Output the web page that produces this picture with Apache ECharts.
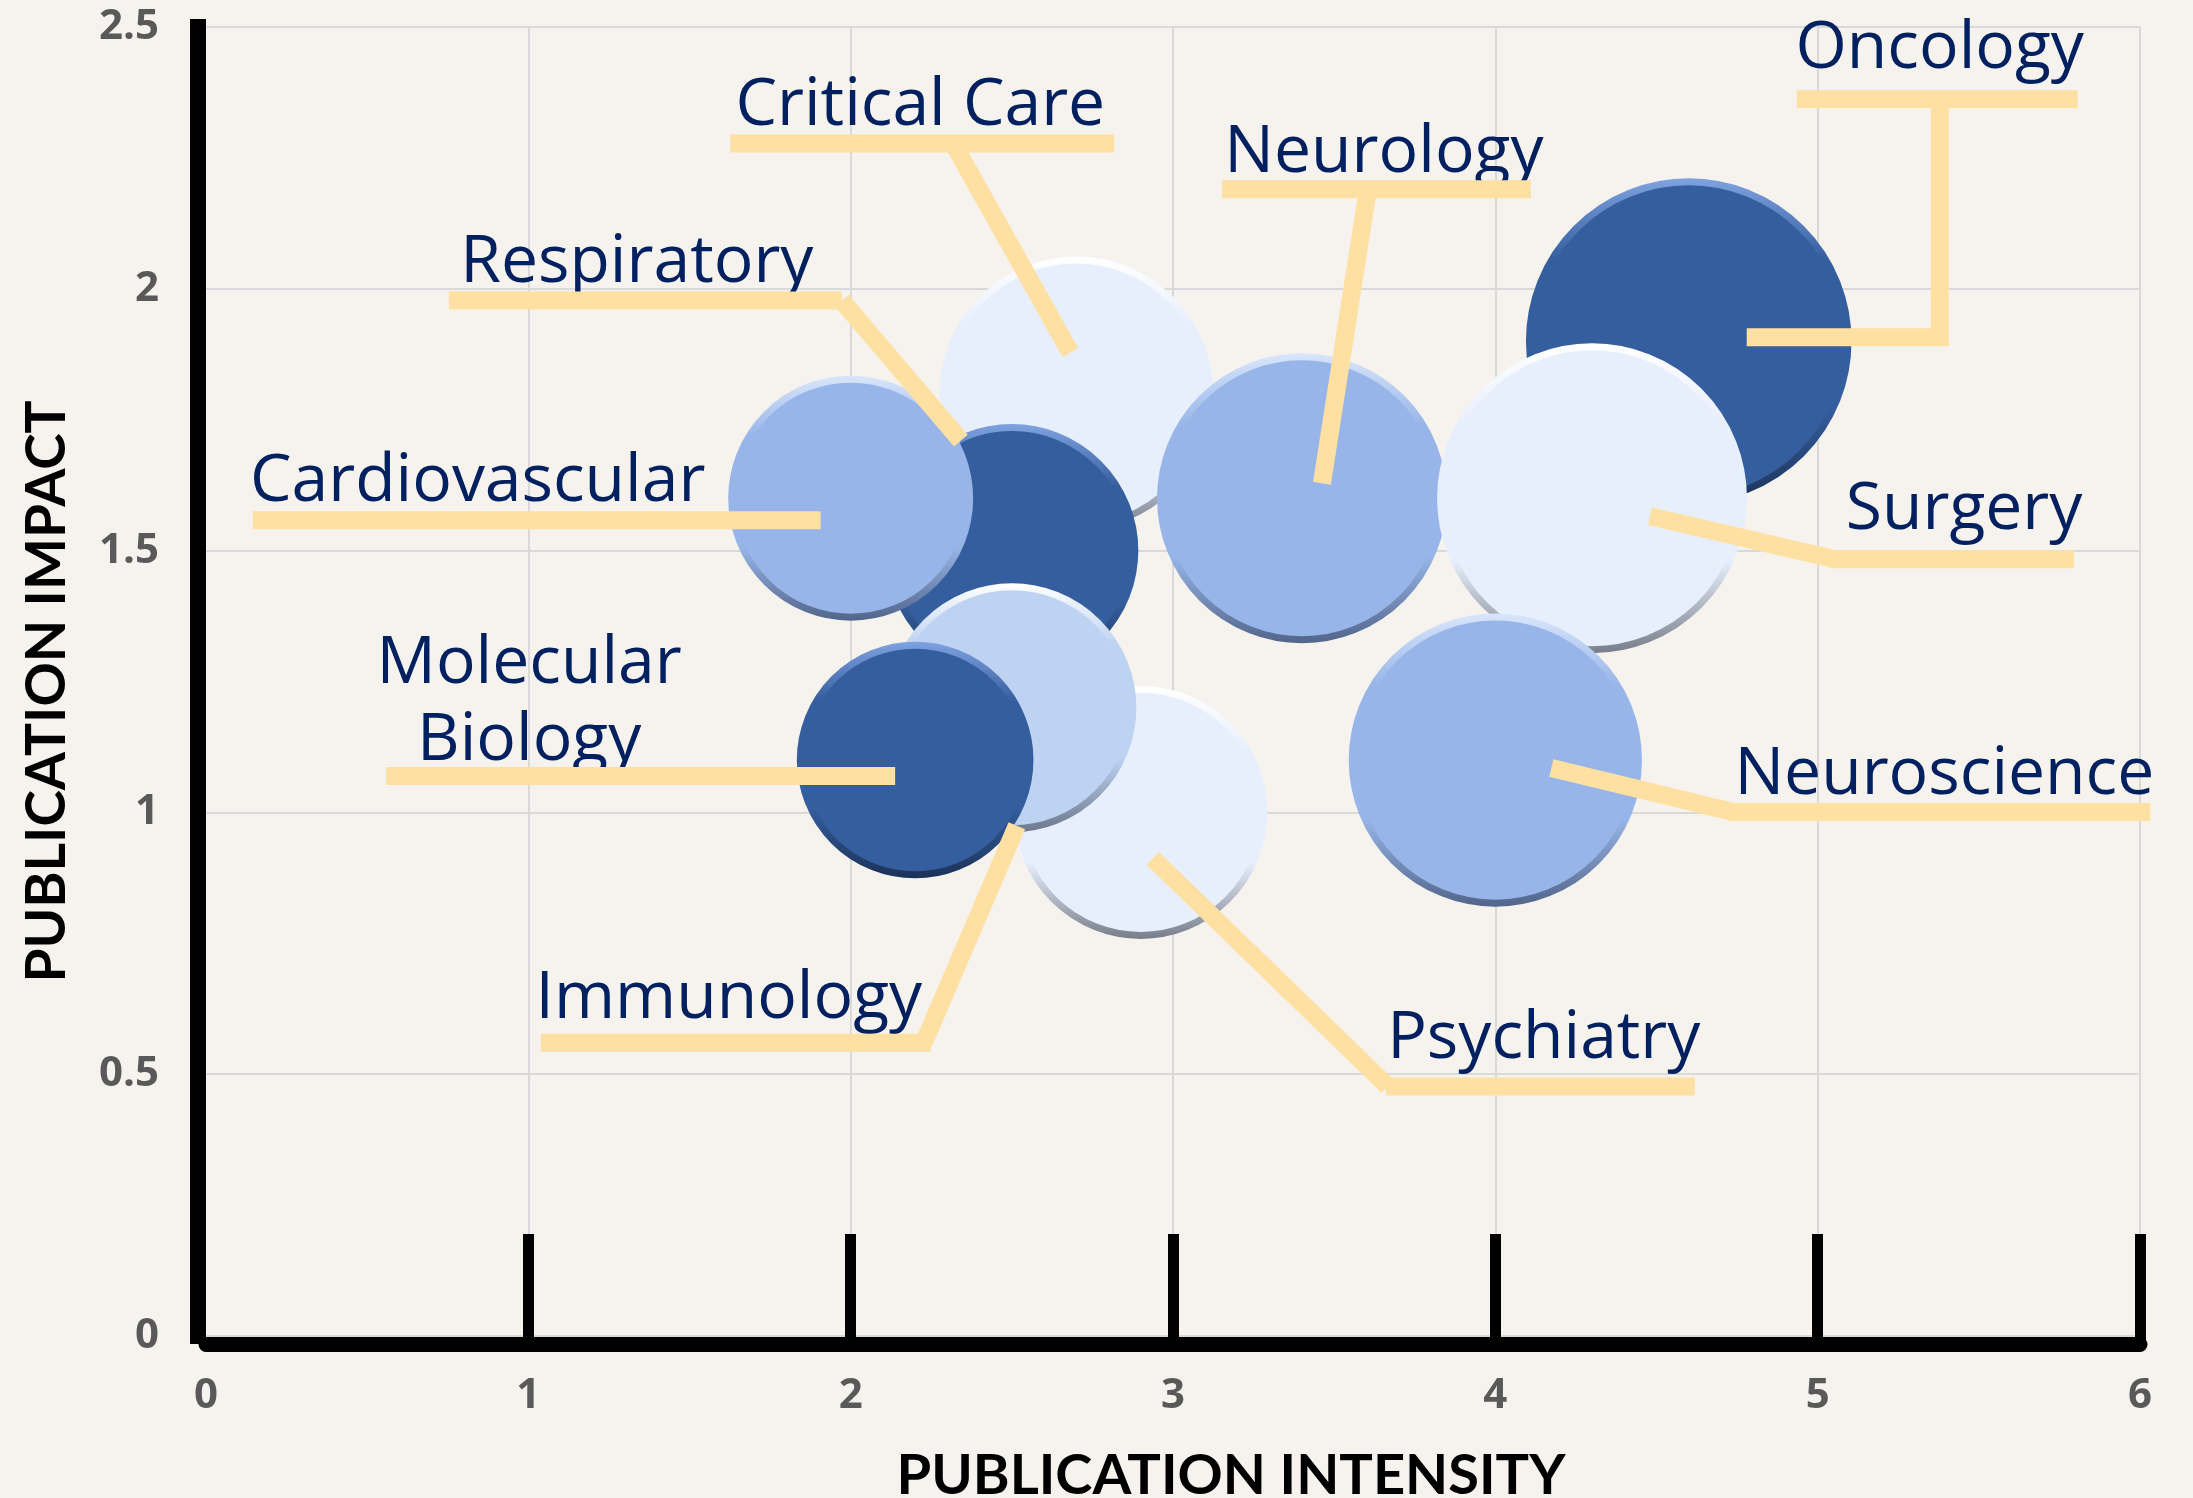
<!DOCTYPE html>
<html>
<head>
<meta charset="utf-8">
<title>Publication intensity vs impact</title>
<script src="https://cdn.jsdelivr.net/npm/echarts@6/dist/echarts.min.js"></script>
<style>
    html, body { margin: 0; padding: 0; background: #f6f3ee; }
    #chart { width: 2193px; height: 1498px; }
</style>
</head>
<body>
<div id="chart"></div>
<script>
// 数据 (drawing order = series order, later ones sit on top)
var fields = ['Oncology', 'Critical Care', 'Respiratory', 'Cardiovascular', 'Neurology',
    'Surgery', 'Psychiatry', 'Immunology', 'Molecular\nBiology', 'Neuroscience'];
var intensity = [4.6, 2.7, 2.5, 2.0, 3.4, 4.3, 2.9, 2.5, 2.2, 4.0];
var impact = [1.9, 1.8, 1.5, 1.6, 1.6, 1.6, 1.0, 1.2, 1.1, 1.1];
var bubbleSize = [10.6, 7.5, 6.4, 6.0, 8.4, 9.6, 6.4, 6.2, 5.6, 8.6];
var xTicks = [0, 1, 2, 3, 4, 5, 6];
var yTicks = [0, 0.5, 1, 1.5, 2, 2.5];

// 样式
var LEADER = '#fee0a2';
var LABEL_FS = 66;
var LABEL_LH = 77;
// fill, top highlight, bottom shade
var shade = {
    dark: ['#355e9e', '#7fa2e0', '#1b3258'],
    mid: ['#97b5e8', '#d9e6fb', '#52658a'],
    light: ['#bed2f2', '#ffffff', '#6b778c'],
    pale: ['#e8effc', '#ffffff', '#777e8a']
};
var fieldShade = {
    'Oncology': 'dark', 'Critical Care': 'pale', 'Respiratory': 'dark', 'Cardiovascular': 'mid',
    'Neurology': 'mid', 'Surgery': 'pale', 'Psychiatry': 'pale', 'Immunology': 'light',
    'Molecular\nBiology': 'dark', 'Neuroscience': 'mid'
};
// callout layout, px offsets from bubble centre: text [dx, baseline dy], bar [x1, x2, y], leader path
var calloutLayout = {
    'Oncology': { text: [251, -273], bar: [108, 389, -242], path: [[58, -4], [251, -4], [251, -242]] },
    'Critical Care': { text: [-156, -268], bar: [-346, 38, -250], path: [[-6, -41], [-123, -250]] },
    'Respiratory': { text: [-375, -268], bar: [-563, -170, -250], path: [[-51, -110], [-170, -250]] },
    'Cardiovascular': { text: [-373, 3], bar: [-598, -30, 22], path: [] },
    'Neurology': { text: [82, -326], bar: [-80, 229, -309], path: [[20, -15], [66, -309]] },
    'Surgery': { text: [372, 31], bar: [238, 482, 61], path: [[58, 18], [243, 61]] },
    'Psychiatry': { text: [403, 246], bar: [245, 554, 274], path: [[12, 46], [247, 274]] },
    'Immunology': { text: [-283, 311], bar: [-471, -81, 335], path: [[5, 118], [-88, 335]] },
    'Molecular\nBiology': { text: [-386, 0], bar: [-529, -20, 16], path: [] },
    'Neuroscience': { text: [449, 34], bar: [233, 655, 52], path: [[56, 8], [238, 52]] }
};

var bubbles = fields.map(function (name, i) {
    var s = shade[fieldShade[name]];
    return {
        name: name,
        value: [intensity[i], impact[i], bubbleSize[i]],
        itemStyle: {
            color: s[0],
            opacity: 1,
            borderWidth: 7,
            borderColor: new echarts.graphic.LinearGradient(0, 0, 0, 1, [
                { offset: 0, color: s[1] },
                { offset: 0.25, color: s[0] },
                { offset: 0.7, color: s[0] },
                { offset: 1, color: s[2] }
            ])
        }
    };
});

function renderCallout(params, api) {
    var i = params.dataIndex;
    var c = api.coord([api.value(0), api.value(1)]);
    var name = fields[i];
    var lay = calloutLayout[name];
    var lines = name.split('\n').length;
    var kids = [];
    kids.push({
        type: 'text',
        style: {
            text: name,
            x: c[0] + lay.text[0],
            y: c[1] + lay.text[1] - 0.29 * LABEL_FS - (lines - 1) * LABEL_LH / 2,
            align: 'center',
            verticalAlign: 'middle',
            fill: '#002060',
            font: LABEL_FS + 'px "Open Sans"',
            lineHeight: LABEL_LH
        }
    });
    kids.push({
        type: 'rect',
        shape: { x: c[0] + lay.bar[0], y: c[1] + lay.bar[2] - 9, width: lay.bar[1] - lay.bar[0], height: 18 },
        style: { fill: LEADER }
    });
    if (lay.path.length) {
        kids.push({
            type: 'polyline',
            shape: { points: lay.path.map(function (p) { return [c[0] + p[0], c[1] + p[1]]; }) },
            style: { stroke: LEADER, lineWidth: 18, fill: null, lineJoin: 'miter' }
        });
    }
    return { type: 'group', children: kids };
}

var chart = echarts.init(document.getElementById('chart'));
chart.setOption({
    backgroundColor: '#f6f3ee',
    animation: false,
    grid: { left: 206, right: 53, top: 27, bottom: 162, containLabel: false, outerBoundsMode: 'none' },
    xAxis: {
        type: 'value',
        min: xTicks[0],
        max: xTicks[xTicks.length - 1],
        interval: 1,
        offset: 8,
        name: 'PUBLICATION INTENSITY',
        nameLocation: 'middle',
        nameGap: 104,
        nameTextStyle: { fontFamily: 'Lato', fontWeight: 'bold', fontSize: 56, color: '#000', padding: [0, 0, 0, 116] },
        axisLine: { show: true, onZero: false, lineStyle: { color: '#000', width: 15 } },
        axisTick: { show: true, inside: true, length: 110, customValues: xTicks.slice(1), lineStyle: { color: '#000', width: 11 } },
        axisLabel: { margin: 31, fontFamily: 'Open Sans', fontWeight: 'bold', fontSize: 42, color: '#595959' },
        splitLine: { show: true, lineStyle: { color: '#d9d9d9', width: 2 } }
    },
    yAxis: {
        type: 'value',
        min: yTicks[0],
        max: yTicks[yTicks.length - 1],
        interval: 0.5,
        offset: 8,
        name: 'PUBLICATION IMPACT',
        nameLocation: 'middle',
        nameGap: 123,
        nameTextStyle: { fontFamily: 'Lato', fontWeight: 'bold', fontSize: 55, color: '#000', padding: [0, 20, 0, 0] },
        axisLine: { show: true, onZero: false, lineStyle: { color: '#000', width: 16, cap: 'square' } },
        axisTick: { show: false },
        axisLabel: { margin: 39, fontFamily: 'Open Sans', fontWeight: 'bold', fontSize: 42, color: '#595959' },
        splitLine: { show: true, lineStyle: { color: '#d9d9d9', width: 2 } }
    },
    series: [{
        type: 'scatter',
        data: bubbles,
        symbol: 'circle',
        symbolSize: function (v) { return 100 * Math.sqrt(v[2]) - 7; },
        itemStyle: { opacity: 1 },
        silent: true,
        z: 2
    }, {
        type: 'custom',
        data: fields.map(function (n, i) { return [intensity[i], impact[i]]; }),
        renderItem: renderCallout,
        silent: true,
        z: 3
    }]
});
</script>
</body>
</html>
